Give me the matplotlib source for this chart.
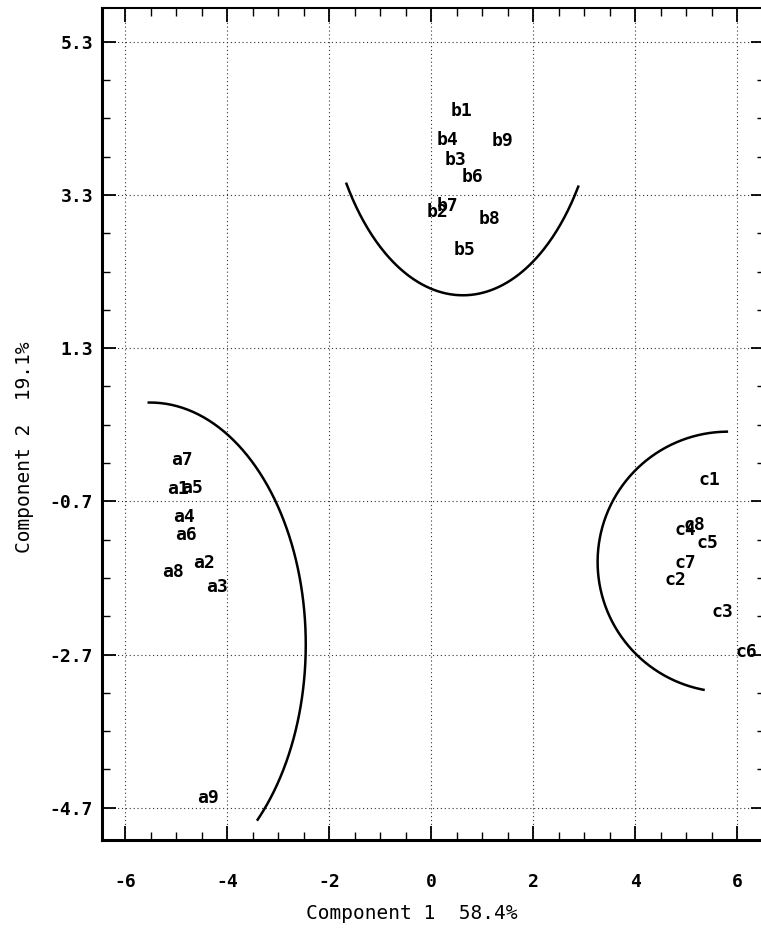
import numpy as np
import matplotlib
matplotlib.use("Agg")
import matplotlib.pyplot as plt
from matplotlib.ticker import MultipleLocator, FixedLocator

# group a scores
a_names = ["a1", "a2", "a3", "a4", "a5", "a6", "a7", "a8", "a9"]
a_x = [-4.96, -4.45, -4.2, -4.84, -4.69, -4.8, -4.88, -5.06, -4.37]
a_y = [-0.54, -1.51, -1.82, -0.9, -0.52, -1.14, -0.16, -1.62, -4.57]

# group b scores
b_names = ["b1", "b2", "b3", "b4", "b5", "b6", "b7", "b8", "b9"]
b_x = [0.6, 0.13, 0.47, 0.31, 0.66, 0.8, 0.31, 1.15, 1.39]
b_y = [4.39, 3.08, 3.76, 4.02, 2.58, 3.54, 3.15, 2.98, 4.01]

# group c scores
c_names = ["c1", "c2", "c3", "c4", "c5", "c6", "c7", "c8"]
c_x = [5.46, 4.78, 5.7, 4.99, 5.42, 6.17, 4.99, 5.15]
c_y = [-0.42, -1.72, -2.15, -1.07, -1.24, -2.66, -1.5, -1.01]

# group boundaries as elliptical arcs: centre, semi-axes, start/end angle (deg)
arc_centers = [(-5.51, -2.57), (0.62, 5.25), (5.82, -1.49)]
arc_axes = [(3.05, 3.16), (2.74, 3.26), (2.56, 1.70)]
arc_angles = [(90.5, -46.3), (213.6, 325.6), (90.6, 259.1)]

x_ticks = [-6, -4, -2, 0, 2, 4, 6]
y_ticks = [-4.7, -2.7, -0.7, 1.3, 3.3, 5.3]

mono = "DejaVu Sans Mono"

fig = plt.figure(figsize=(7.61, 9.3), dpi=100)
ax = fig.add_axes([0.1336, 0.0968, 0.8716, 0.8946])
ax.set_xlim(-6.46, 6.54)
ax.set_ylim(-5.12, 5.74)

# dotted grid at the labelled ticks only
for gx in x_ticks:
    ax.axvline(gx, color="#333333", lw=0.8, ls=(0, (1, 2.5)), zorder=0)
for gy in y_ticks:
    ax.axhline(gy, color="#333333", lw=0.8, ls=(0, (1, 2.5)), zorder=0)

for (cx, cy), (ra, rb), (t0, t1) in zip(arc_centers, arc_axes, arc_angles):
    t = np.radians(np.linspace(t0, t1, 200))
    ax.plot(cx + ra * np.cos(t), cy + rb * np.sin(t), color="black", lw=1.8)

for names, xs, ys in [(a_names, a_x, a_y), (b_names, b_x, b_y), (c_names, c_x, c_y)]:
    for n, x, y in zip(names, xs, ys):
        ax.text(x, y, n, ha="center", va="center", fontsize=13,
                family=mono, fontweight="bold", color="black")

ax.xaxis.set_major_locator(FixedLocator(x_ticks))
ax.xaxis.set_minor_locator(MultipleLocator(0.5))
ax.yaxis.set_major_locator(FixedLocator(y_ticks))
ax.yaxis.set_minor_locator(FixedLocator(np.arange(-4.7, 5.8, 0.5)))
ax.set_xticklabels([str(v) for v in x_ticks])
ax.set_yticklabels(["%.1f" % v for v in y_ticks])
ax.tick_params(which="major", direction="in", length=10, width=1.3,
               top=True, right=True, labelsize=13)
ax.tick_params(which="minor", direction="in", length=6, width=1,
               top=True, right=True)
ax.tick_params(axis="x", which="major", pad=24)
ax.tick_params(axis="y", which="major", pad=6)
for lab in ax.get_xticklabels() + ax.get_yticklabels():
    lab.set_family(mono)
    lab.set_fontweight("bold")

ax.spines["left"].set_linewidth(2.2)
ax.spines["bottom"].set_linewidth(2.2)
ax.spines["top"].set_linewidth(1.5)
ax.spines["right"].set_linewidth(1.5)

fig.text(412 / 761, 1 - 913 / 930, "Component 1  58.4%", family=mono,
         fontsize=14, ha="center", va="center")
fig.text(25 / 761, 1 - 447 / 930, "Component 2  19.1%", family=mono,
         fontsize=14, ha="center", va="center", rotation=90)

fig.savefig("out.png", dpi=100)
